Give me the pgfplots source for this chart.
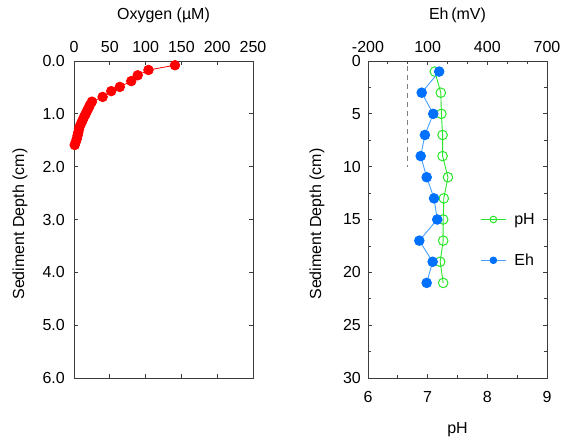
\documentclass[border=0pt]{standalone}
\usepackage{pgfplots}
\pgfplotsset{compat=1.18}
\usepackage{fontspec}
\setmainfont{Liberation Sans}
\definecolor{oxred}{RGB}{255,0,0}
\definecolor{ehblue}{RGB}{0,112,255}
\definecolor{ehline}{RGB}{70,160,255}
\definecolor{phgreen}{RGB}{40,230,40}
\definecolor{axcol}{RGB}{60,60,60}

\pgfplotstableread{
ox depth
141 0.08
104 0.17
89 0.27
80 0.38
64 0.49
52 0.57
40 0.68
25 0.77
22 0.84
20 0.90
18 0.95
16 1.01
14 1.06
12 1.12
10 1.18
8 1.24
7 1.29
6 1.35
5 1.41
4 1.47
2.5 1.53
1 1.59
}\oxdata

\pgfplotstableread{
eh depth
158 1
70 3
128 5
86 7
65 9
95 11
132 13
148 15
58 17
125 19
95 21
}\ehdata

\pgfplotstableread{
ph depth
7.12 1
7.22 3
7.23 5
7.25 7
7.25 9
7.34 11
7.27 13
7.26 15
7.26 17
7.21 19
7.26 21
}\phdata

\newcommand{\fsz}{\fontsize{16}{18}\selectfont}

\pgfplotsset{
  common/.style={
    scale only axis, width=179pt, height=317pt,
    anchor=south west,
    y dir=reverse,
    tick align=inside,
    font=\fsz,
    /pgf/number format/assume math mode=true,
    axis line style={axcol, line width=1pt},
    every tick/.style={axcol, line width=0.8pt},
    major tick length=4pt,
    minor tick length=3pt,
    clip=false,
    xticklabel style={inner sep=2pt},
  }
}

\begin{document}
\begin{tikzpicture}
\useasboundingbox (0pt,0pt) rectangle (564pt,447pt);

% Left: oxygen
\begin{axis}[common, at={(74pt,69pt)},
  xmin=0, xmax=250, ymin=0, ymax=6,
  xtick={0,50,...,250}, ytick={0,1,...,6},
  xticklabel pos=upper,
  xticklabel style={yshift=6pt},
  yticklabel style={inner sep=2pt, xshift=-7pt, /pgf/number format/.cd, fixed, fixed zerofill, precision=1},
]
\addplot[color=oxred, line width=0.8pt, mark=*, mark size=4.8pt, mark options={fill=oxred, draw=oxred}]
  table[x=ox, y=depth] {\oxdata};
\end{axis}

% Right: pH (bottom axis)
\begin{axis}[common, at={(368pt,69pt)},
  xmin=6, xmax=9, ymin=0, ymax=30,
  xtick={6,7,8,9}, ytick={0,5,...,30},
  minor x tick num=1, minor y tick num=1,
  xtick pos=lower, xticklabel pos=lower,
  xticklabel style={yshift=-11pt},
  yticklabel style={inner sep=0pt, xshift=-7pt},
]
\addplot[color=phgreen, line width=0.9pt, mark=o, mark size=4.8pt, mark options={draw=phgreen, line width=1pt}]
  table[x=ph, y=depth] {\phdata};
\end{axis}

% Right: Eh (top axis)
\begin{axis}[common, at={(368pt,69pt)},
  xmin=-200, xmax=700, ymin=0, ymax=30,
  axis x line*=top, axis y line=none,
  xtick={-200,100,400,700},
  minor xtick={-100,0,200,300,500,600},
  xticklabel style={inner sep=0pt, yshift=8pt},
  legend style={at={(0.627,0.533)}, anchor=north west, draw=none, fill=none,
    row sep=20pt, font=\fsz, inner sep=0pt,
    /tikz/every odd column/.append style={column sep=4pt},
    nodes={inner sep=4pt}},
  legend cell align=left,
  legend image code/.code={\draw[mark repeat=2, mark phase=2, mark size=3.3pt] plot coordinates {(0pt,0pt) (12.5pt,0pt) (25pt,0pt)};},
]
\draw[gray, dashed, line width=0.8pt, dash pattern=on 5pt off 4pt] (axis cs:0,0.5) -- (axis cs:0,10);
\addlegendimage{color=phgreen, line width=0.9pt, mark=o, mark options={draw=phgreen, line width=1pt}}
\addlegendentry{pH}
\addplot[color=ehline, line width=0.9pt, mark=*, mark size=4.8pt, mark options={fill=ehblue, draw=ehblue}]
  table[x=eh, y=depth] {\ehdata};
\addlegendentry{Eh}
\end{axis}

% Titles and labels
\node[font=\fsz] at (163.5pt,432pt) {Oxygen (µM)};
\node[font=\fsz] at (457.5pt,432pt) {Eh\,(mV)};
\node[font=\fsz] at (457.5pt,17pt) {pH};
\node[font=\fsz, rotate=90] at (20pt,223pt) {Sediment Depth (cm)};
\node[font=\fsz, rotate=90] at (317pt,223pt) {Sediment Depth (cm)};
\end{tikzpicture}
\end{document}
